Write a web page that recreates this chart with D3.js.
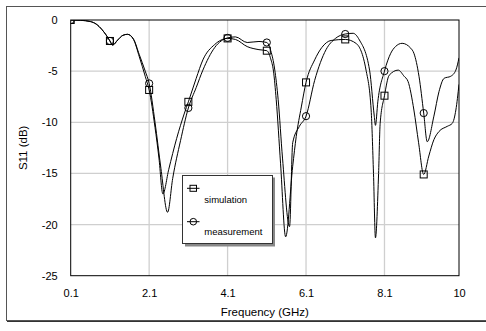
<!DOCTYPE html>
<html><head><meta charset="utf-8">
<script src="https://cdn.jsdelivr.net/npm/d3@7"></script>
<style>body{margin:0;background:#fff}svg{display:block}text{font-family:"Liberation Sans",Arial,sans-serif;fill:#000}</style>
</head><body><svg id="c" width="486" height="331"></svg>
<script>
const xTicks = [0.1, 2.1, 4.1, 6.1, 8.1, 10];
const yTicks = [0, -5, -10, -15, -20, -25];
const markerFreqs = [0.1, 1.1, 2.1, 3.1, 4.1, 5.1, 6.1, 7.1, 8.1, 9.1];
const simulation = [
[0.1,0],[0.35,-0.03],[0.6,-0.15],[0.75,-0.4],[0.9,-0.95],[1.0,-1.45],[1.1,-2.05],[1.17,-2.45],
[1.3,-1.95],[1.43,-1.5],[1.55,-1.4],[1.7,-1.9],[1.85,-3.6],[2.0,-5.5],[2.1,-6.84],[2.25,-10.5],
[2.35,-13.5],[2.45,-17.0],[2.6,-14.6],[2.8,-11.6],[3.0,-9.1],[3.1,-8.0],[3.3,-5.7],[3.47,-3.9],
[3.77,-2.4],[4.1,-1.8],[4.3,-1.9],[4.6,-2.6],[4.9,-2.9],[5.1,-3.0],[5.2,-3.8],[5.27,-5.0],
[5.34,-7.8],[5.45,-14.0],[5.58,-21.2],[5.76,-14.3],[5.85,-11.4],[5.98,-8.5],[6.1,-6.1],[6.32,-3.9],
[6.5,-2.7],[6.74,-2.0],[7.1,-1.9],[7.38,-2.3],[7.63,-4.9],[7.76,-8.8],[7.82,-15],[7.87,-21.3],
[7.95,-15],[7.99,-10.1],[8.1,-7.4],[8.22,-5.4],[8.45,-4.9],[8.6,-5.5],[8.7,-6.0],[8.85,-8.8],
[8.97,-12],[9.1,-15.1],[9.23,-13.3],[9.36,-11.7],[9.49,-10.9],[9.7,-10.4],[9.83,-10.1],[9.92,-8.8],[10,-6.3]
];
const measurement = [
[0.1,0],[0.35,-0.03],[0.6,-0.15],[0.75,-0.4],[0.9,-0.95],[1.0,-1.45],[1.1,-2.05],[1.17,-2.45],
[1.3,-1.95],[1.43,-1.5],[1.55,-1.4],[1.7,-1.85],[1.85,-3.4],[2.0,-5.0],[2.1,-6.2],[2.25,-10.0],
[2.4,-14.5],[2.57,-18.8],[2.7,-15.5],[2.9,-11.8],[3.1,-8.6],[3.3,-6.6],[3.47,-4.9],[3.77,-2.7],
[4.1,-1.75],[4.3,-1.65],[4.6,-2.2],[4.9,-2.1],[5.1,-2.2],[5.2,-3.0],[5.3,-4.8],[5.39,-7.8],
[5.5,-13.5],[5.68,-20.2],[5.76,-12.0],[5.93,-10.4],[6.1,-9.4],[6.32,-5.9],[6.61,-2.9],[6.85,-1.8],
[7.1,-1.37],[7.3,-1.3],[7.46,-1.95],[7.72,-4.9],[7.84,-9.4],[7.87,-10.3],[7.93,-8.0],[8.1,-5.0],
[8.26,-3.25],[8.38,-2.6],[8.55,-2.28],[8.77,-2.76],[8.85,-3.25],[8.98,-5.5],[9.1,-9.1],[9.19,-11.9],
[9.36,-9.4],[9.49,-7.0],[9.62,-5.7],[9.79,-5.5],[9.92,-4.9],[10,-3.7]
];

const svg = d3.select("#c");
const L = 70.7, R = 459, T = 20, B = 275.7;
const x = d3.scaleLinear().domain([0.1, 10]).range([L, R]);
const y = d3.scaleLinear().domain([-25, 0]).range([B, T]);

// outer frame
svg.append("rect").attr("x",6.5).attr("y",6.5).attr("width",495).attr("height",314)
  .attr("fill","#fff").attr("stroke","#555").attr("stroke-width",1);
svg.append("line").attr("x1",7).attr("x2",486).attr("y1",321.5).attr("y2",321.5).attr("stroke","#333").attr("stroke-width",1.2);

// grid
const g = svg.append("g");
g.selectAll(".gx").data(xTicks.slice(1,-1)).enter().append("line")
  .attr("x1",d=>x(d)).attr("x2",d=>x(d)).attr("y1",T).attr("y2",B)
  .attr("stroke","#cfcfcf").attr("stroke-width",1.3);
g.selectAll(".gy").data(yTicks.slice(1,-1)).enter().append("line")
  .attr("x1",L).attr("x2",R).attr("y1",d=>y(d)).attr("y2",d=>y(d))
  .attr("stroke","#cfcfcf").attr("stroke-width",1.3);

// axes
const xa = svg.append("g").attr("transform",`translate(0,${B})`)
  .call(d3.axisBottom(x).tickValues(xTicks).tickSize(0).tickPadding(14).tickFormat(d=>String(d)));
xa.select(".domain").remove();
xa.selectAll("text").attr("font-size","11px").style("font-family",'"Liberation Sans",Arial,sans-serif');
const ya = svg.append("g").attr("transform",`translate(${L},0)`)
  .call(d3.axisLeft(y).tickValues(yTicks).tickSize(0).tickPadding(13).tickFormat(d=>String(d)));
ya.select(".domain").remove();
ya.selectAll("text").attr("font-size","11px").style("font-family",'"Liberation Sans",Arial,sans-serif');

svg.append("text").attr("x",(L+R)/2).attr("y",316).attr("text-anchor","middle")
  .attr("font-size","11.5px").text("Frequency (GHz)");
svg.append("text").attr("transform",`translate(27,${(T+B)/2}) rotate(-90)`).attr("text-anchor","middle")
  .attr("font-size","11.5px").text("S11 (dB)");

// clip
svg.append("clipPath").attr("id","pc").append("rect").attr("x",L).attr("y",T).attr("width",R-L).attr("height",B-T);
const p = svg.append("g").attr("clip-path","url(#pc)");
const line = d3.line().x(d=>x(d[0])).y(d=>y(d[1])).curve(d3.curveMonotoneX);
[simulation, measurement].forEach(s=>{
  p.append("path").datum(s).attr("d",line).attr("fill","none").attr("stroke","#000").attr("stroke-width",1);
});
function valAt(s,f){ const e = s.find(d=>Math.abs(d[0]-f)<1e-9); return e?e[1]:0; }
p.selectAll(".sq").data(markerFreqs).enter().append("rect")
  .attr("x",d=>x(d)-3.5).attr("y",d=>y(valAt(simulation,d))-3.5).attr("width",7).attr("height",7)
  .attr("fill","none").attr("stroke","#000").attr("stroke-width",1);
p.selectAll(".ci").data(markerFreqs).enter().append("circle")
  .attr("cx",d=>x(d)).attr("cy",d=>y(valAt(measurement,d))).attr("r",3.6)
  .attr("fill","none").attr("stroke","#000").attr("stroke-width",1);

// plot border
svg.append("rect").attr("x",L).attr("y",T).attr("width",R-L).attr("height",B-T)
  .attr("fill","none").attr("stroke","#000").attr("stroke-width",1);

// legend
const lg = svg.append("g");
lg.append("rect").attr("x",185).attr("y",177.5).attr("width",90).attr("height",69).attr("fill","#888");
lg.append("rect").attr("x",182.5).attr("y",175.5).attr("width",90).attr("height",68).attr("fill","#fff").attr("stroke","#333").attr("stroke-width",1);
const items = [{name:"simulation", ly:188.3, ty:202.7, m:"sq"},{name:"measurement", ly:221.7, ty:235, m:"ci"}];
items.forEach(it=>{
  lg.append("line").attr("x1",187).attr("x2",199.5).attr("y1",it.ly).attr("y2",it.ly).attr("stroke","#000");
  if(it.m==="sq") lg.append("rect").attr("x",190).attr("y",it.ly-3).attr("width",6.5).attr("height",6).attr("fill","none").attr("stroke","#000");
  else lg.append("circle").attr("cx",193.3).attr("cy",it.ly).attr("r",3.3).attr("fill","none").attr("stroke","#000");
  lg.append("text").attr("x",204.3).attr("y",it.ty).attr("font-size","9.5px").text(it.name);
});
</script></body></html>
